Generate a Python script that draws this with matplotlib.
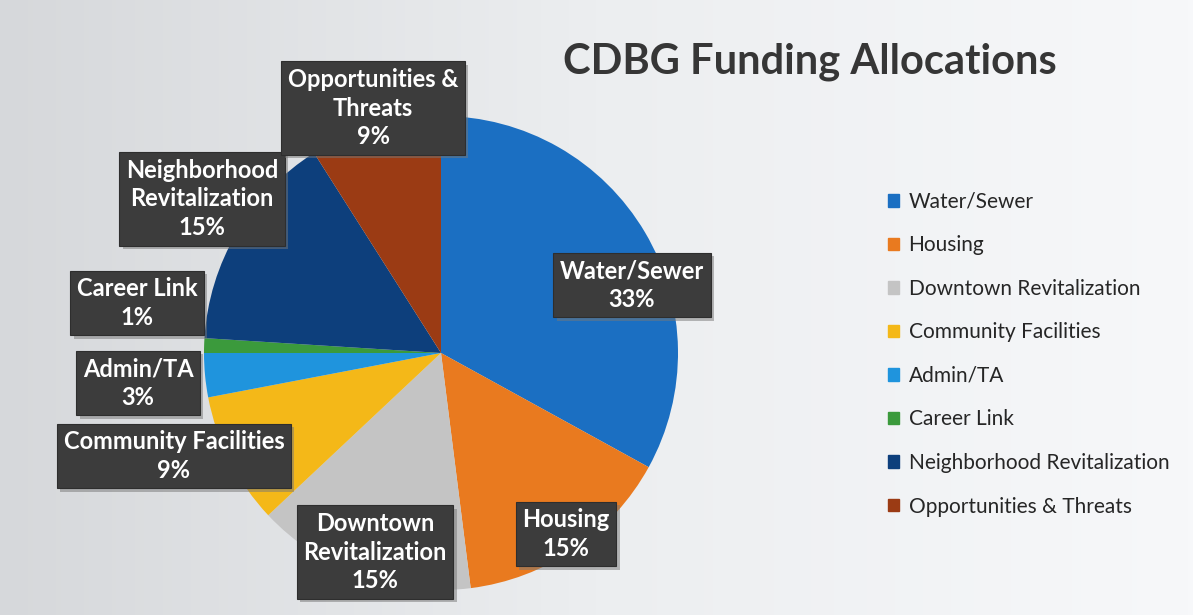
import matplotlib
matplotlib.use("Agg")
import matplotlib.pyplot as plt
import matplotlib.patheffects as pe
import numpy as np

# Data
categories = ["Water/Sewer", "Housing", "Downtown Revitalization", "Community Facilities",
              "Admin/TA", "Career Link", "Neighborhood Revitalization", "Opportunities & Threats"]
shares = [33, 15, 15, 9, 3, 1, 15, 9]
box_labels = ["Water/Sewer", "Housing", "Downtown\nRevitalization", "Community Facilities",
              "Admin/TA", "Career Link", "Neighborhood\nRevitalization", "Opportunities &\nThreats"]
colors = ["#1b6fc2", "#e97a1f", "#c4c4c4", "#f4b818", "#1f94dd", "#3b9a3c", "#0d3f7c", "#9b3b14"]

# label box centres in pixels (x from left, y from top)
label_pos = [(632, 285), (566, 534), (375, 552), (174, 456),
             (138, 383), (137, 303), (202, 199), (373, 108)]

W, H = 1193, 615
fig = plt.figure(figsize=(W / 100, H / 100), dpi=100)
ax = fig.add_axes([0, 0, 1, 1])

# soft grey-to-white background
grad = np.linspace(0, 1, 256)
grad = np.vstack([grad] * 2)
ax.imshow(grad, extent=[0, W, 0, H], cmap=matplotlib.colors.LinearSegmentedColormap.from_list(
    "bg", ["#d6d8db", "#eceef0", "#f7f8fa"]), aspect="auto", zorder=0)

ax.pie(shares, colors=colors, startangle=90, counterclock=False,
       center=(441, H - 353), radius=237, frame=True,
       wedgeprops=dict(linewidth=0), normalize=True)

for lab, s, (px, py) in zip(box_labels, shares, label_pos):
    t = ax.text(px, H - py, f"{lab}\n{s}%", ha="center", va="center", color="white",
                fontsize=17, fontweight="bold", family="Lato", linespacing=1.3,
                bbox=dict(boxstyle="square,pad=0.28", fc="#3c3c3c", ec="#2e2e2e", lw=0.8),
                zorder=5)
    t.get_bbox_patch().set_path_effects([
        pe.SimplePatchShadow(offset=(2.5, -2.5), shadow_rgbFace="#777777", alpha=0.5),
        pe.Normal()])

ax.text(810, H - 62, "CDBG Funding Allocations", ha="center", va="center",
        fontsize=30, fontweight="bold", family="Lato", color="#363636")

# legend
handles = [matplotlib.patches.Patch(color=c) for c in colors]
leg = ax.legend(handles, categories, loc="upper left", bbox_to_anchor=(869 / W, 1 - 173 / H),
                frameon=False, prop=dict(family="Lato", size=15), labelspacing=1.13,
                handlelength=0.55, handleheight=0.55, handletextpad=0.45)
for t in leg.get_texts():
    t.set_color("#262626")

ax.set_xlim(0, W)
ax.set_ylim(0, H)
ax.set_aspect("equal")
ax.axis("off")

fig.savefig("out.png", dpi=100)
